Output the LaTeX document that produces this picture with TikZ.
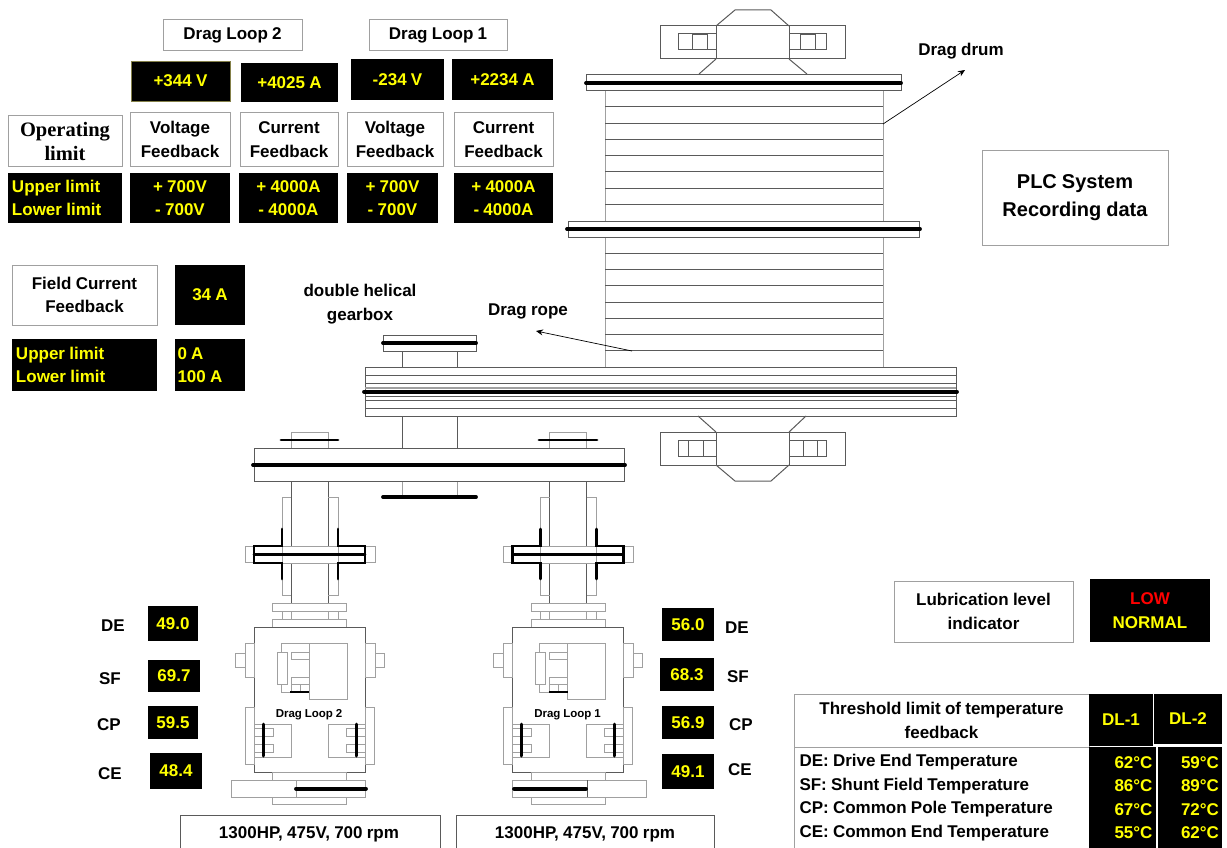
\documentclass[tikz,border=0pt]{standalone}
\usepackage{fontspec}
\setmainfont[WordSpace=0.9]{Liberation Sans}
\newfontfamily\serifbold{Liberation Serif}
\usetikzlibrary{arrows.meta}
\definecolor{inkdark}{HTML}{5A5A5A}
\definecolor{inklight}{HTML}{A0A0A0}
\definecolor{readout}{HTML}{FFFF00}
\newcommand{\bigfont}{\fontsize{17}{23.5}\selectfont\bfseries}
\tikzset{
  lblbox/.style={draw=inklight,line width=0.9pt,fill=white,anchor=north west,inner sep=0pt,outer sep=0pt,align=center,font=\bigfont},
  blkbox/.style={fill=black,text=readout,anchor=north west,inner sep=0pt,outer sep=0pt,align=center,font=\bigfont},
  plain/.style={inner sep=0pt,align=center,font=\bigfont,yshift=-1pt},
  ln/.style={draw=inkdark,line width=1pt},
  lt/.style={draw=inklight,line width=1pt},
  thk/.style={draw=black,line width=3.8pt,line cap=round},
  thn/.style={draw=black,line width=2.8pt,line cap=round},
  ptr/.style={draw=black,line width=0.7pt,-{Stealth[length=7pt,width=6pt]}},
}
\begin{document}
\begin{tikzpicture}[x=1pt,y=-1pt]
    \useasboundingbox (0,0) rectangle (1227,848);

    % loop headers
    \node[lblbox,minimum width=139,minimum height=31] (dl2) at (163,19.5) {Drag Loop 2};
    \node[lblbox,minimum width=138,minimum height=31] (dl1) at (369,19.5) {Drag Loop 1};

    % live readings
    \node[blkbox,draw=yellow!45!black,minimum width=99,minimum height=40] (v2) at (131,61) {+344 V};
    \node[blkbox,minimum width=97,minimum height=39] (i2) at (241,63) {+4025 A};
    \node[blkbox,minimum width=93,minimum height=41] (v1) at (351,59) {-234 V};
    \node[blkbox,minimum width=101,minimum height=41] (i1) at (452,59) {+2234 A};

    % feedback captions
    \node[lblbox,minimum width=114,minimum height=51,font=\fontsize{20.5}{24}\serifbold\bfseries\selectfont] (oplim) at (8,115.5) {Operating\\limit};
    \node[lblbox,minimum width=100,minimum height=54] (vf2) at (130,112.5) {Voltage\\Feedback};
    \node[lblbox,minimum width=98,minimum height=54] (cf2) at (240,112.5) {Current\\Feedback};
    \node[lblbox,minimum width=96,minimum height=54] (vf1) at (347,112.5) {Voltage\\Feedback};
    \node[lblbox,minimum width=99,minimum height=54] (cf1) at (454,112.5) {Current\\Feedback};

    % limits
    \node[blkbox,minimum width=114,minimum height=50,align=flush left,text width=106,inner xsep=4pt] (ullab) at (8,173) {Upper limit\\Lower limit};
    \node[blkbox,minimum width=100,minimum height=50] (vl2) at (130,173) {+ 700V\\- 700V};
    \node[blkbox,minimum width=99,minimum height=50] (il2) at (239,173) {+ 4000A\\- 4000A};
    \node[blkbox,minimum width=91,minimum height=50] (vl1) at (347,173) {+ 700V\\- 700V};
    \node[blkbox,minimum width=99,minimum height=50] (il1) at (454,173) {+ 4000A\\- 4000A};

    % field current
    \node[lblbox,minimum width=145,minimum height=60] (fcf) at (12,265) {Field Current\\Feedback};
    \node[blkbox,minimum width=70,minimum height=60] (fcv) at (175,265) {34 A};
    \node[blkbox,minimum width=145,minimum height=52,align=flush left,text width=137,inner xsep=4pt] (fclab) at (12,339) {Upper limit\\Lower limit};
    \node[blkbox,minimum width=70,minimum height=52,align=flush left,text width=65,inner xsep=2.5pt] (fclim) at (175,339) {0 A\\100 A};

    % plc and lubrication
    \node[lblbox,minimum width=186,minimum height=95,font=\fontsize{20}{28}\selectfont\bfseries] (plc) at (982,150) {PLC System\\Recording data};
    \node[lblbox,minimum width=179,minimum height=61] (lub) at (894,581) {Lubrication level\\indicator};
    \node[blkbox,minimum width=120,minimum height=63] (lubval) at (1090,579) {\textcolor{red}{LOW}\\NORMAL};

    % threshold table
    \node[lblbox,minimum width=295,minimum height=53] (thr) at (794,694) {Threshold limit of temperature\\feedback};
    \node[blkbox,minimum width=64,minimum height=52] (dlone) at (1089,694) {\raisebox{-2pt}{DL-1}};
    \node[blkbox,minimum width=68,minimum height=50] (dltwo) at (1154,694) {\raisebox{-2pt}{DL-2}};
    \node[lblbox,minimum height=101,text width=284,align=flush left,inner xsep=5.5pt] (thrlist) at (794,747) {DE: Drive End Temperature\\SF: Shunt Field Temperature\\CP: Common Pole Temperature\\CE: Common End Temperature};
    \node[blkbox,minimum height=101,text width=60,inner xsep=3.5pt,align=flush right] (throne) at (1089,747) {62°C\\86°C\\67°C\\55°C};
    \node[blkbox,minimum height=101,text width=58,inner xsep=3pt,align=flush right] (thrtwo) at (1158,747) {59°C\\89°C\\72°C\\62°C};

    % motor temperatures
    \foreach \nm/\xa/\ya/\w/\h/\t in {a/148/606/50/35/49.0,b/148/660/52/32/69.7,c/148/706/50/33/59.5,d/150/753/52/36/48.4,
                                      e/662/608/52/33/56.0,f/660/658/54/33/68.3,g/662/706/52/33/56.9,h/662/754/52/35/49.1} {
      \node[blkbox,minimum width=\w,minimum height=\h] (temp\nm) at (\xa,\ya) {\t};
    }
    \foreach \nm/\xa/\ya/\t in {a/113/625/DE,b/110/678/SF,c/109/724/CP,d/110/773/CE,
                                e/737/627/DE,f/738/676/SF,g/741/724/CP,h/740/769/CE} {
      \node[plain] (tag\nm) at (\xa,\ya) {\t};
    }

    % free labels
    \node[plain] (drumlab) at (961,50) {Drag drum};
    \node[plain] (ropelab) at (528,310) {Drag rope};
    \node[plain] (gearlab) at (360,303) {double helical\\gearbox};

    % top bearing
    \draw[ln] (660,26) rectangle (845,59);
    \draw[ln,fill=white] (716,26) rectangle (789,59);
    \draw[ln] (716,26) -- (735,10) -- (771,10) -- (789,26);
    \draw[ln] (716,59) -- (699,74) (789,59) -- (807,74);
    \draw[ln] (678,34) rectangle (716,50) (692,35) rectangle (707,50);
    \draw[ln] (789,34) rectangle (826,50) (800,35) rectangle (815,50);

    % bottom bearing
    \draw[ln] (660,432) rectangle (845,465);
    \draw[ln,fill=white] (716,432) rectangle (789,465);
    \draw[ln] (716,465) -- (735,481) -- (771,481) -- (789,465);
    \draw[ln] (716,432) -- (698,416) (789,432) -- (806,416);
    \draw[ln] (678,440) rectangle (716,456) (688,440) rectangle (703,456);
    \draw[ln] (789,440) rectangle (826,456) (803,440) rectangle (817,456);

    % drum
    \draw[lt] (605,91) -- (605,367) (883,91) -- (883,367);
    \foreach \y in {107,124,140,156,172,189,205,253,269,285,302,318,334,350} {
      \draw[ln] (605,\y) -- (883,\y);
    }
    \draw[ln] (586,75) rectangle (901,91);
    \draw[thk] (586,83) -- (901,83);
    \draw[ln,fill=white] (568,221) rectangle (919,237);
    \draw[thk] (567,229) -- (920,229);

    % gearbox
    \draw[ln] (383,335) rectangle (476,351);
    \draw[thk] (383,343) -- (476,343);
    \draw[ln] (402,351) -- (402,367) (457,351) -- (457,367);
    \draw[ln] (365,367) rectangle (956,416);
    \foreach \y in {375,383,396,400,408} {
      \draw[ln] (365,\y) -- (956,\y);
    }
    \draw[draw=inklight,line width=2pt] (365,388) -- (956,388);
    \draw[thk] (364,391.7) -- (957,391.7);
    \draw[ln] (402,416) -- (402,448) (457,416) -- (457,448);
    \draw[lt] (402,481) -- (402,497) (457,481) -- (457,497);
    \draw[thk] (383,497) -- (476,497);

    % second stage
    \draw[ln] (254,448) rectangle (624,481);
    \draw[thk] (253,465) -- (625,465);
    \draw[lt] (291,448) |- (328,432) -- (328,448);
    \draw[thn] (281,440) -- (338,440);
    \draw[lt] (549,448) |- (586,432) -- (586,448);
    \draw[thn] (539,440) -- (597,440);

    % couplings and motors
    \foreach \dx/\lp in {0/2,258.5/1} {
      \begin{scope}[xshift=\dx]
        % shaft
        \draw[ln] (291,481) -- (291,546) (328,481) -- (328,546);
        \draw[ln] (291,563) -- (291,603) (328,563) -- (328,603);
        \draw[lt] (291,497) -| (282,595) -- (291,595);
        \draw[lt] (328,497) -| (338,595) -- (328,595);
        % coupling
        \draw[lt] (254,546) -| (245,562) -- (254,562);
        \draw[lt] (365,546) -| (375,562) -- (365,562);
        \draw[lt] (282,546) -- (338,546) (282,563) -- (338,563);
        \draw[thn] (282,529) -- (282,546) -- (254,546) -- (254,563) -- (282,563) -- (282,579);
        \draw[thn] (338,529) -- (338,546) -- (365,546) -- (365,563) -- (338,563) -- (338,579);
        \draw[thn] (254,554.5) -- (365,554.5);
        % motor frame
        \draw[lt] (272.5,603) rectangle (346.5,611);
        \draw[lt] (282,611) rectangle (291,619) (328,611) rectangle (338,619);
        \draw[lt] (272.5,619) rectangle (346.5,627);
        \draw[ln] (254,627) rectangle (365,772);
        \draw[lt] (245,643) rectangle (254,677) (235,653) rectangle (245,667);
        \draw[lt] (365,643) rectangle (375,677) (375,653) rectangle (384,667);
        % brush gear
        \draw[lt] (309,643) rectangle (347,699);
        \draw[lt] (309,643) -| (281,652) (281,684) |- (309,692);
        \draw[lt] (277,652) rectangle (287,684);
        \draw[lt] (291,652) rectangle (309,659);
        \draw[lt] (291,677) rectangle (309,692);
        \draw[lt] (291,684) -- (309,684) (300,684) -- (300,692);
        \draw[draw=black,line width=1.8pt] (290,692) -- (309,692);
        \node[font=\fontsize{11.5}{12}\selectfont\bfseries,inner sep=0pt] (mot\lp) at (309,715) {Drag Loop \lp};
        % field poles
        \draw[lt] (245,707) rectangle (254,764) (365,707) rectangle (374,764);
        \draw[lt] (254,724) rectangle (291,757) (328,724) rectangle (365,757);
        \draw[lt] (254,728) rectangle (273,736) (254,744) rectangle (273,752);
        \draw[lt] (346,728) rectangle (365,736) (346,744) rectangle (365,752);
        \draw[thk,line width=3pt] (263,724) -- (263,756);
        \draw[thk,line width=3pt] (356,724) -- (356,756);
        % end bells
        \draw[lt] (272.5,772) rectangle (346.5,780);
        \draw[lt] (272.5,797) rectangle (346.5,804);
      \end{scope}
    }
    % drive ends
    \draw[lt] (231,780) rectangle (365,797);
    \draw[lt] (296,780) -- (296,797);
    \draw[thk] (296,788.7) -- (366,788.7);
    \draw[lt] (512.5,780) rectangle (646,797);
    \draw[ln] (587,780) -- (587,797);
    \draw[thk] (514,788.7) -- (586,788.7);

    % motor ratings
    \draw[ln] (180,848) |- (440,815) -- (440,848);
    \draw[ln] (456,848) |- (714,815) -- (714,848);
    \node[plain] (rate2) at (309,833) {1300HP, 475V, 700 rpm};
    \node[plain] (rate1) at (585,833) {1300HP, 475V, 700 rpm};

    % pointers
    \coordinate (drumpt) at (883,124);
    \coordinate (drumtip) at (965,70);
    \coordinate (ropept) at (632,351);
    \coordinate (ropetip) at (536,331);
    \draw[ptr] (drumpt) -- (drumtip);
    \draw[ptr] (ropept) -- (ropetip);
\end{tikzpicture}
\end{document}
